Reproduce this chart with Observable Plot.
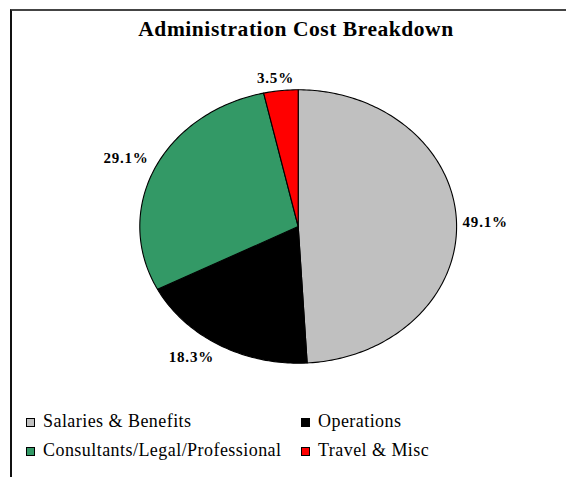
<!DOCTYPE html>
<html>
<head>
<meta charset="utf-8">
<script src="https://cdn.jsdelivr.net/npm/d3@7"></script>
<script src="https://cdn.jsdelivr.net/npm/@observablehq/plot@0.6"></script>
<style>
  html, body { margin: 0; padding: 0; background: #fff; }
  body { width: 566px; height: 477px; position: relative; overflow: hidden; font-family: "Liberation Serif", "Times New Roman", serif; }
  #frame { position: absolute; left: 10px; top: 9px; width: 600px; height: 520px; border-top: 2px solid #444; border-left: 2px solid #111; box-sizing: border-box; }
  #title { position: absolute; left: 0; top: 19px; width: 592px; text-align: center; font-weight: bold; font-size: 21.5px; line-height: 1; letter-spacing: 0.55px; color: #000; }
  #chart { position: absolute; left: 0; top: 0; }
  #chart text.lbl { letter-spacing: 0.8px; }
  .item { position: absolute; font-size: 18px; line-height: 18px; letter-spacing: 0.45px; white-space: nowrap; color: #000; }
  .sw { display: inline-block; width: 9px; height: 9px; box-sizing: border-box; border: 1px solid #000; margin-right: 8px; vertical-align: baseline; position: relative; top: 0px; }
</style>
</head>
<body>
<div id="frame"></div>
<div id="title"></div>
<div id="chart"></div>
<div id="legend"></div>
<script>
const title = "Administration Cost Breakdown";
const categories = ["Salaries & Benefits", "Operations", "Consultants/Legal/Professional", "Travel & Misc"];
const values = [49.1, 18.3, 29.1, 3.5];
const labels = ["49.1%", "18.3%", "29.1%", "3.5%"];
const colors = ["#C0C0C0", "#000000", "#339966", "#FF0000"];

document.getElementById("title").textContent = title;

// layout of the pie within the page
const W = 566, H = 400;
const cx = 297.7, cy = 226, rx = 158.4, ry = 136.7;
const mLeft = cx - rx, mRight = W - (cx + rx), mTop = cy - ry, mBottom = H - (cy + ry);

// build slice polygons (angles clockwise from 12 o'clock)
const total = d3.sum(values);
let acc = 0;
const slicePts = [];
const labelRows = [];
const canvas = document.createElement("canvas");
const ctx = canvas.getContext("2d");
ctx.font = "bold 15px 'Liberation Serif'";
const clamp = v => Math.max(-1, Math.min(1, v));
categories.forEach((name, i) => {
  const a0 = acc / total * 2 * Math.PI;
  acc += values[i];
  const a1 = acc / total * 2 * Math.PI;
  const n = Math.max(2, Math.ceil((a1 - a0) / (Math.PI / 180)));
  slicePts.push({name, x: 0, y: 0});
  for (let k = 0; k <= n; k++) {
    const a = a0 + (a1 - a0) * k / n;
    slicePts.push({name, x: Math.sin(a), y: Math.cos(a)});
  }
  slicePts.push({name, x: 0, y: 0});
  // label placement: outside end, box touching the edge
  const m = (a0 + a1) / 2;
  const w = ctx.measureText(labels[i]).width + 0.8 * labels[i].length;
  const h = 12, g = 6;
  const dxp = clamp(2 * Math.sin(m)) * (w / 2 + g);
  const dyp = -clamp(2 * Math.cos(m)) * (h / 2 + g);
  labelRows.push({text: labels[i], x: Math.sin(m) + dxp / rx, y: Math.cos(m) - dyp / ry});
});

const plot = Plot.plot({
  width: W,
  height: H,
  marginLeft: mLeft,
  marginRight: mRight,
  marginTop: mTop,
  marginBottom: mBottom,
  x: {domain: [-1, 1], axis: null},
  y: {domain: [-1, 1], axis: null},
  color: {domain: categories, range: colors},
  style: {background: "transparent", overflow: "visible"},
  marks: [
    Plot.line(slicePts, {x: "x", y: "y", z: "name", fill: "name", stroke: "#000", strokeWidth: 1.1, strokeLinejoin: "round", curve: "linear"}),
    Plot.text(labelRows, {x: "x", y: "y", text: "text", fontSize: 15, fontWeight: "bold", fontFamily: "Liberation Serif", fill: "#000", textAnchor: "middle"})
  ]
});
plot.querySelectorAll("g[aria-label='text'] text").forEach(t => t.setAttribute("class", "lbl"));
document.getElementById("chart").appendChild(plot);

// legend
const legend = document.getElementById("legend");
const colX = [26, 301], rowY = [412, 441];
categories.forEach((name, i) => {
  const div = document.createElement("div");
  div.className = "item";
  div.style.left = colX[i % 2] + "px";
  div.style.top = rowY[Math.floor(i / 2)] + "px";
  const sw = document.createElement("span");
  sw.className = "sw";
  sw.style.background = colors[i];
  div.appendChild(sw);
  div.appendChild(document.createTextNode(name));
  legend.appendChild(div);
});
</script>
</body>
</html>
